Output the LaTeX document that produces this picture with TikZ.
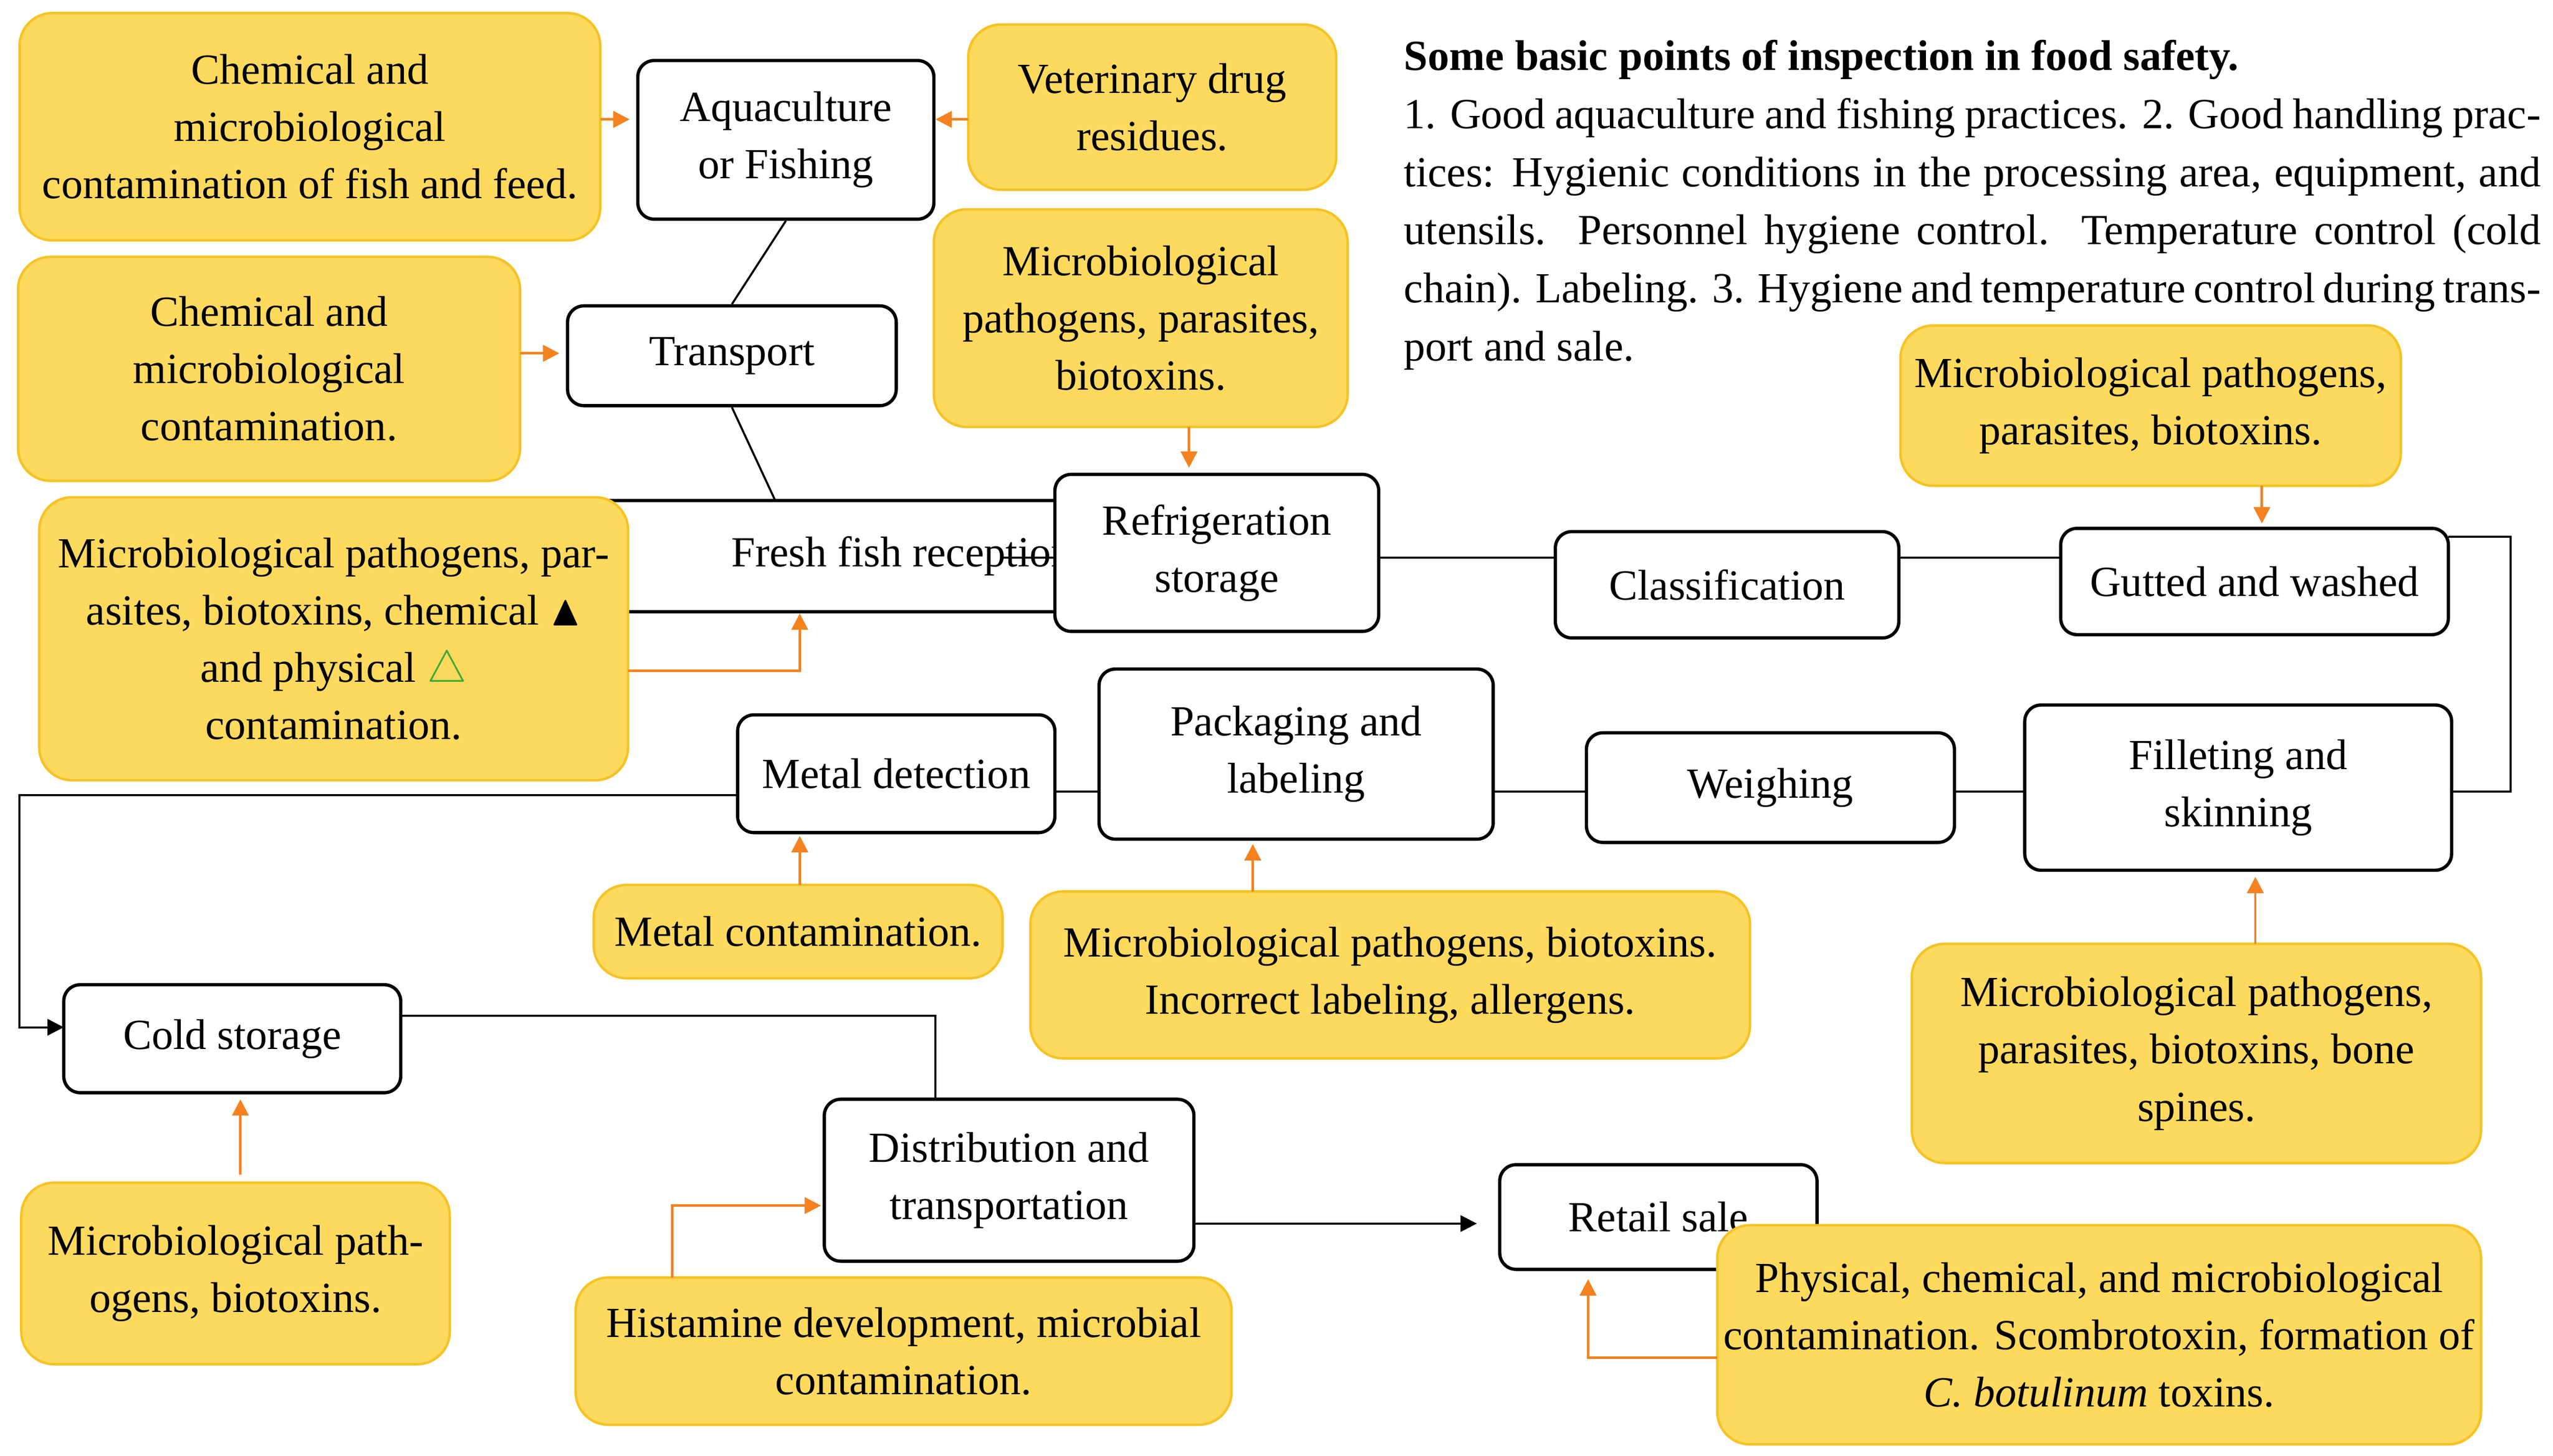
\documentclass[tikz,border=0pt]{standalone}
\usepackage{amssymb}
\usepackage{fontspec}
\setmainfont{Liberation Serif}
\usetikzlibrary{arrows.meta}
\definecolor{yfill}{HTML}{FDD95E}
\definecolor{yedge}{HTML}{F6C324}
\definecolor{arr}{HTML}{F58220}
\definecolor{grn}{HTML}{3DAA35}
\newcommand\bx[7]{\node[#1, minimum width={(#4-#2)*0.4pt}, minimum height={(#5-#3)*0.4pt}] (#6) at ({(#2+#4)/2},{(#3+#5)/2}) {#7};}
\begin{document}
\begin{tikzpicture}[x=0.4pt,y=-0.4pt,
  every node/.style={font=\fontsize{10.5}{14}\selectfont, align=center, inner sep=0pt},
  box/.style={draw=black, line width=0.8pt, rounded corners=4pt, fill=white},
  ybox/.style={draw=yedge, line width=0.6pt, rounded corners=8pt, fill=yfill},
  ln/.style={line width=0.5pt, black},
  oa/.style={arr, line width=0.6pt, -{Triangle[length=4pt,width=4pt]}},
  ba/.style={ln, -{Triangle[length=4pt,width=4pt]}}]
\useasboundingbox (0,0) rectangle (1561,890);
% process boxes
\bx{box}{390}{37}{571}{134}{aqua}{Aquaculture\\or Fishing}
\bx{box}{347}{187}{548}{248}{trans}{Transport}
\bx{box}{365}{306}{613}{374}{fresh}{\hspace*{50pt}Fresh fish reception}
\bx{box}{645}{290}{843}{386}{refr}{Refrigeration\\storage}
\bx{box}{951}{325}{1161}{390}{clas}{Classification}
\bx{box}{1260}{323}{1497}{388}{gut}{Gutted and washed}
\bx{box}{1238}{431}{1499}{532}{fill}{Filleting and\\skinning}
\bx{box}{970}{448}{1195}{515}{weigh}{Weighing}
\bx{box}{672}{409}{913}{513}{pack}{Packaging and\\labeling}
\bx{box}{451}{437}{645}{509}{metal}{Metal detection}
\bx{box}{39}{602}{245}{668}{cold}{Cold storage}
\bx{box}{504}{672}{730}{771}{dist}{Distribution and\\transportation}
\bx{box}{917}{712}{1111}{776}{retail}{Retail sale}
% connectors
\coordinate (c1) at (1535,328); \coordinate (c2) at (1535,484);
\coordinate (c3) at (12,486); \coordinate (c4) at (12,628);
\coordinate (c5) at (572,621); \coordinate (c6) at (903,748);
\draw[ln] (aqua.south) -- (trans.north);
\draw[ln] (trans.south) -- (474,306);
\draw[ln] (613,341) -- (645,341);
\draw[ln] (843,341) -- (951,341);
\draw[ln] (1161,341) -- (1260,341);
\draw[ln] (1497,328) -- (c1) -- (c2) -- (1499,484);
\draw[ln] (1238,484) -- (1195,484);
\draw[ln] (970,484) -- (913,484);
\draw[ln] (672,484) -- (645,484);
\draw[ba] (451,486) -- (c3) -- (c4) -- (39,628);
\draw[ln] (245,621) -- (c5) -- (572,672);
\draw[ba] (730,748) -- (c6);
% yellow boxes
\bx{ybox}{12}{8}{367}{147}{y1}{Chemical and\\microbiological\\contamination of fish and feed.}
\bx{ybox}{592}{15}{817}{116}{y2}{Veterinary drug\\residues.}
\bx{ybox}{11}{157}{318}{294}{y3}{Chemical and\\microbiological\\contamination.}
\bx{ybox}{571}{128}{824}{261}{y4}{Microbiological\\pathogens, parasites,\\biotoxins.}
\bx{ybox}{24}{304}{384}{477}{y5}{Microbiological pathogens, par-\\asites, biotoxins, chemical $\blacktriangle$\\and physical \textcolor{grn}{$\triangle$}\hspace*{30pt}\\contamination.}
\bx{ybox}{1162}{199}{1468}{297}{y6}{Microbiological pathogens,\\parasites, biotoxins.}
\bx{ybox}{363}{541}{613}{598}{y7}{Metal contamination.}
\bx{ybox}{630}{545}{1070}{647}{y8}{Microbiological pathogens, biotoxins.\\Incorrect labeling, allergens.}
\bx{ybox}{1169}{577}{1517}{711}{y9}{Microbiological pathogens,\\parasites, biotoxins, bone\\spines.}
\bx{ybox}{13}{723}{275}{834}{y10}{Microbiological path-\\ogens, biotoxins.}
\bx{ybox}{352}{781}{753}{871}{y11}{Histamine development, microbial\\contamination.}
\bx{ybox}{1050}{749}{1517}{883}{y12}{Physical, chemical, and microbiological\\contamination. Scombrotoxin, formation of\\\textit{C. botulinum} toxins.}
% orange arrows
\draw[oa] (367,73) -- (385,73);
\draw[oa] (592,73) -- (572,73);
\draw[oa] (318,216) -- (342,216);
\draw[oa] (727,261) -- (727,286);
\draw[oa] (384,410) -- (489,410) -- (489,375);
\draw[oa] (1383,297) -- (1383,320);
\draw[oa] (489,541) -- (489,511);
\draw[oa] (766,545) -- (766,516);
\draw[oa] (1379,577) -- (1379,536);
\draw[oa] (147,718) -- (147,672);
\draw[oa] (411,781) -- (411,737) -- (502,737);
\draw[oa] (1050,830) -- (971,830) -- (971,782);
% text block
\node[anchor=north west, align=justify, text width=278pt, font=\fontsize{10.5}{14.2}\selectfont] (note) at (858,24) {\textbf{Some basic points of inspection in food safety.}\\
1. Good aquaculture and fishing practices. 2. Good handling practices: Hygienic conditions in the processing area, equipment, and utensils. Personnel hygiene control. Temperature control (cold chain). Labeling. 3. Hygiene and temperature control during transport and sale.};
\end{tikzpicture}
\end{document}
